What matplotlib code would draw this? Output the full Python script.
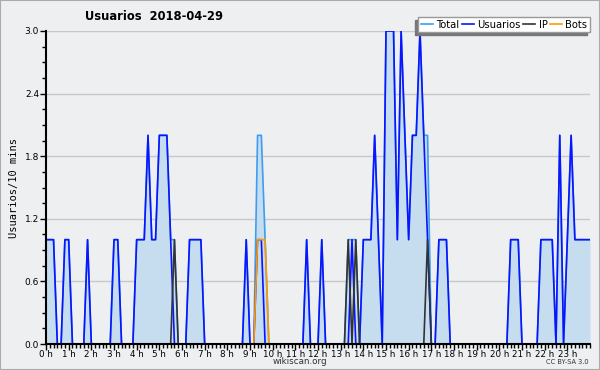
import numpy as np
import matplotlib
matplotlib.use('Agg')
import matplotlib.pyplot as plt
from matplotlib.patches import Rectangle
from matplotlib.ticker import MultipleLocator

# Valores cada 10 minutos (6 por hora), último punto = 24 h
usuarios = [1, 1, 1, 0, 0, 1,   1, 0, 0, 0, 0, 1,   0, 0, 0, 0, 0, 0,
            1, 1, 0, 0, 0, 0,   1, 1, 1, 2, 1, 1,   2, 2, 2, 1, 0, 0,
            0, 0, 1, 1, 1, 1,   0, 0, 0, 0, 0, 0,   0, 0, 0, 0, 0, 1,
            0, 0, 1, 1, 0, 0,   0, 0, 0, 0, 0, 0,   0, 0, 0, 1, 0, 0,
            0, 1, 0, 0, 0, 0,   0, 0, 0, 1, 0, 0,   1, 1, 1, 2, 1, 0,
            3, 3, 3, 1, 3, 2,   1, 2, 2, 3, 2, 1,   0, 0, 1, 1, 1, 0,
            0, 0, 0, 0, 0, 0,   0, 0, 0, 0, 0, 0,   0, 0, 0, 1, 1, 1,
            0, 0, 0, 0, 0, 1,   1, 1, 1, 0, 2, 0,   1, 2, 1, 1, 1, 1,
            1]
total = [1, 1, 1, 0, 0, 1,   1, 0, 0, 0, 0, 1,   0, 0, 0, 0, 0, 0,
         1, 1, 0, 0, 0, 0,   1, 1, 1, 2, 1, 1,   2, 2, 2, 1, 1, 0,
         0, 0, 1, 1, 1, 1,   0, 0, 0, 0, 0, 0,   0, 0, 0, 0, 0, 1,
         0, 0, 2, 2, 1, 0,   0, 0, 0, 0, 0, 0,   0, 0, 0, 1, 0, 0,
         0, 1, 0, 0, 0, 0,   0, 0, 1, 1, 1, 0,   1, 1, 1, 2, 1, 0,
         3, 3, 3, 1, 3, 2,   1, 2, 2, 3, 2, 2,   0, 0, 1, 1, 1, 0,
         0, 0, 0, 0, 0, 0,   0, 0, 0, 0, 0, 0,   0, 0, 0, 1, 1, 1,
         0, 0, 0, 0, 0, 1,   1, 1, 1, 0, 2, 0,   1, 2, 1, 1, 1, 1,
         1]
ip = [0] * 145
for k in [34, 80, 82, 101]:
    ip[k] = 1
bots = [0] * 145
for k in [56, 57, 58]:
    bots[k] = 1

hour_labels = [f'{h} h' for h in range(24)]

x = np.arange(len(total)) / 6.0

bg = '#eeeff1'
fig = plt.figure(figsize=(6, 3.7), dpi=100, facecolor=bg)
fig.patches.append(Rectangle((0, 0), 1, 1, transform=fig.transFigure,
                             fill=False, edgecolor='#aaaaaa', linewidth=1.5))

ax = fig.add_axes([46 / 600, 1 - 344 / 370, 544 / 600, 313 / 370])
ax.set_facecolor(bg)

# Total (relleno) y series
ax.fill_between(x, total, 0, color='#c6ddf0', linewidth=0)
ax.plot(x, total, color='#3d9df0', lw=1.2, label='Total')
ax.plot(x, usuarios, color='#0a14ff', lw=1.2, label='Usuarios')
ax.plot(x, ip, color='#333333', lw=1.2, label='IP')
ax.plot(x, bots, color='#ff9900', lw=1.2, label='Bots')

ax.set_xlim(0, 24)
ax.set_ylim(0, 3.0)
ax.set_yticks([0, 0.6, 1.2, 1.8, 2.4, 3.0])
ax.set_yticklabels(['0.0', '0.6', '1.2', '1.8', '2.4', '3.0'])
ax.yaxis.set_minor_locator(MultipleLocator(0.15))
ax.set_xticks(range(24))
ax.set_xticklabels(hour_labels)
ax.xaxis.set_minor_locator(MultipleLocator(1 / 6))
ax.grid(axis='y', color='#c8c8c8', linewidth=1)
ax.set_axisbelow(True)

for s in ['top', 'right']:
    ax.spines[s].set_visible(False)
for s in ['left', 'bottom']:
    ax.spines[s].set_linewidth(1.5)
    ax.spines[s].set_color('black')

ax.tick_params(axis='both', which='major', length=4, width=1, labelsize=6.5, pad=1)
ax.tick_params(axis='both', which='minor', length=3, width=1)
ax.tick_params(axis='x', labelsize=6.3, pad=0)

ax.set_ylabel('Usuarios/10 mins', family='DejaVu Sans Mono', fontsize=7.5, labelpad=4)

fig.text(85 / 600, 1 - 17 / 370, 'Usuarios  2018-04-29', fontsize=8.3,
         fontweight='bold', ha='left', va='center')
fig.text(300 / 600, 1 - 362 / 370, 'wikiscan.org', fontsize=6.3,
         color='#333333', ha='center', va='center')
fig.text(589 / 600, 1 - 362 / 370, 'CC BY-SA 3.0', fontsize=4.8,
         color='#333333', ha='right', va='center')

leg = ax.legend(ncol=4, loc='upper right', bbox_to_anchor=(590 / 600, 1 - 17 / 370),
                bbox_transform=fig.transFigure, fontsize=7.2, frameon=True,
                fancybox=False, shadow={'color': '#777777', 'alpha': 1, 'ox': -2.5, 'oy': -2.5},
                handlelength=1.2, handletextpad=0.35, columnspacing=0.25,
                borderpad=0.25, borderaxespad=0)
leg.get_frame().set_edgecolor('#999999')
leg.get_frame().set_facecolor('white')
leg.get_frame().set_alpha(1)

fig.savefig('out.png', dpi=100, facecolor=bg)
